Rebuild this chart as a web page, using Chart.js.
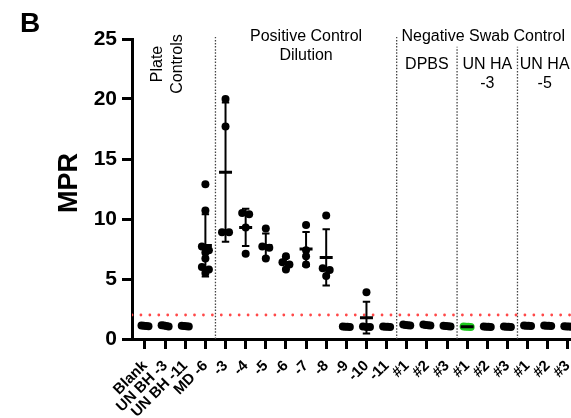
<!DOCTYPE html>
<html><head><meta charset="utf-8">
<script src="https://cdn.jsdelivr.net/npm/chart.js@4/dist/chart.umd.min.js"></script>
<style>
html,body{margin:0;padding:0;background:#fff;overflow:hidden;width:571px;height:418px}
#wrap{position:absolute;left:0;top:0;width:590px;height:418px}
</style>
</head><body><div id="wrap"><canvas id="c" width="590" height="418"></canvas></div>
<script>
// ---------- data ----------
const categories = ['Blank','UN BH -3','UN BH -11','MD -6','-3','-4','-5','-6','-7','-8','-9','-10','-11',
  '#1','#2','#3','#1','#2','#3','#1','#2','#3'];
const replicateValues = [
  [1.12, 1.08, 1.10, 1.06],
  [1.15, 1.12, 1.08, 1.05],
  [1.10, 1.08, 1.06, 1.05],
  [12.9, 10.7, 7.7, 7.4, 7.2, 6.7, 6.0, 5.8, 5.5],
  [20.0, 17.7, 8.9, 8.9],
  [10.5, 10.4, 9.3, 7.1],
  [9.2, 7.7, 7.6, 6.7],
  [6.9, 6.4, 6.2, 5.8],
  [9.5, 7.4, 6.9, 6.2],
  [10.3, 5.9, 5.75, 5.25],
  [1.05, 1.03, 1.02, 1.00],
  [3.9, 1.05, 1.0, 1.0],
  [1.05, 1.03, 1.02, 1.00],
  [1.20, 1.17, 1.15, 1.13],
  [1.20, 1.16, 1.14, 1.12],
  [1.10, 1.08, 1.07, 1.05],
  [1.05, 1.03, 1.02, 1.01],
  [1.05, 1.03, 1.02, 1.01],
  [1.05, 1.03, 1.02, 1.01],
  [1.13, 1.11, 1.10, 1.08],
  [1.13, 1.11, 1.10, 1.08],
  [1.07, 1.05, 1.04, 1.03]
];
const means = [1.09, 1.10, 1.07, 7.8, 13.9, 9.3, 7.8, 6.3, 7.5, 6.8, 1.03, 1.78, 1.03,
  1.16, 1.15, 1.07, 1.03, 1.03, 1.03, 1.10, 1.10, 1.05];
const sds = [0.03, 0.04, 0.02, 2.6, 5.8, 1.55, 1.0, 0.45, 1.42, 2.35, 0.02, 1.33, 0.02,
  0.03, 0.03, 0.02, 0.02, 0.02, 0.02, 0.02, 0.02, 0.02];
const highlightedCategory = 16;          // green group (UN HA -3, #1)
const yTicks = [0, 5, 10, 15, 20, 25];
const cutoff = 2;                          // red dotted threshold
const groupBreaks = [3.5, 12.5, 15.5, 18.5];
const groupBreakTops = [25.17, 25.17, 24.35, 24.35];
const xRange = [-0.645, 21.63];

// ---------- point spreading (scatter dot plot) ----------
const PX_PER_CAT = 20.16, ROW_TOL = 0.45, SPREAD_PX = 3.5;
function spreadGroup(vals, idx) {
  const sorted = vals.slice().sort((a, b) => b - a);
  const rows = [];
  sorted.forEach(v => {
    const r = rows[rows.length - 1];
    if (r && r[0] - v <= ROW_TOL) r.push(v); else rows.push([v]);
  });
  const pts = [];
  rows.forEach(r => {
    const n = r.length;
    r.forEach((v, k) => {
      const off = n === 1 ? 0 : (-SPREAD_PX + 2 * SPREAD_PX * k / (n - 1));
      pts.push({ x: idx + off / PX_PER_CAT, y: v });
    });
  });
  return pts;
}
const blackDots = [], greenDots = [];
replicateValues.forEach((vals, i) => {
  (i === highlightedCategory ? greenDots : blackDots).push(...spreadGroup(vals, i));
});
const meanPts = means.map((m, i) => ({ x: i, y: m }));
const capPts = [];
const whiskerPts = [];
means.forEach((m, i) => {
  capPts.push({ x: i, y: m - sds[i] }, { x: i, y: m + sds[i] });
  whiskerPts.push({ x: i, y: m - sds[i] }, { x: i, y: m + sds[i] }, { x: i, y: null });
});
const breakPts = [];
groupBreaks.forEach((b, k) => { breakPts.push({ x: b, y: 0 }, { x: b, y: groupBreakTops[k] }, { x: b, y: null }); });

const FAM = "'Liberation Sans', Arial, Helvetica, sans-serif";
Chart.defaults.font.family = FAM;
Chart.defaults.color = '#000';

// ---------- annotation text ----------
const annot = {
  id: 'annot',
  afterDraw(chart) {
    const ctx = chart.ctx, xs = chart.scales.x;
    const px = v => xs.getPixelForValue(v);
    ctx.save();
    ctx.fillStyle = '#000';
    ctx.font = `bold 28px ${FAM}`;
    ctx.textAlign = 'left'; ctx.textBaseline = 'alphabetic';
    ctx.fillText('B', 20, 32);

    // y title
    ctx.save();
    ctx.translate(77, 183); ctx.rotate(-Math.PI / 2);
    ctx.font = `bold 27px ${FAM}`; ctx.textAlign = 'center';
    ctx.fillText('MPR', 0, 0);
    ctx.restore();

    ctx.font = `16px ${FAM}`;
    // Plate Controls (rotated)
    ctx.save();
    ctx.translate(px(1) - 3, 64); ctx.rotate(-Math.PI / 2);
    ctx.textAlign = 'center';
    ctx.fillText('Plate', 0, 0);
    ctx.fillText('Controls', 0, 20);
    ctx.restore();

    ctx.textAlign = 'center';
    ctx.fillText('Positive Control', px(8), 41);
    ctx.fillText('Dilution', px(8), 60);
    ctx.fillText('Negative Swab Control', px(16.8), 41);
    ctx.fillText('DPBS', px(14), 69);
    ctx.fillText('UN HA', px(17), 69);
    ctx.fillText('-3', px(17), 88);
    ctx.fillText('UN HA', px(19.85), 69);
    ctx.fillText('-5', px(19.85), 88);
    ctx.restore();
  }
};

new Chart(document.getElementById('c'), {
  type: 'scatter',
  data: {
    datasets: [
      { type: 'scatter', data: meanPts, pointStyle: 'line', pointRadius: 6.5, pointBorderWidth: 3,
        borderColor: '#000', backgroundColor: '#000', pointHoverRadius: 6.5 },
      { type: 'scatter', data: greenDots, pointRadius: 4, pointBorderWidth: 0,
        backgroundColor: '#1ec81e', borderColor: '#1ec81e' },
      { type: 'scatter', data: blackDots, pointRadius: 4, pointBorderWidth: 0,
        backgroundColor: '#000', borderColor: '#000' },
      { type: 'scatter', data: capPts, pointStyle: 'line', pointRadius: 3.7, pointBorderWidth: 2,
        borderColor: '#000', backgroundColor: '#000' },
      { type: 'line', data: whiskerPts, showLine: true, spanGaps: false, pointRadius: 0,
        borderWidth: 2, borderColor: '#000' },
      { type: 'line', data: [{ x: xRange[0], y: cutoff }, { x: xRange[1], y: cutoff }], pointRadius: 0,
        borderWidth: 2.8, borderColor: '#ff4848', borderDash: [0, 8.93], borderCapStyle: 'round' },
      { type: 'line', data: breakPts, showLine: true, spanGaps: false, pointRadius: 0, clip: false,
        borderWidth: 1.3, borderColor: '#444', borderDash: [1.5, 1.6] }
    ]
  },
  options: {
    responsive: false, animation: false, devicePixelRatio: 1,
    layout: { padding: { top: 39, left: 0, right: 0, bottom: 0 } },
    plugins: { legend: { display: false }, tooltip: { enabled: false } },
    scales: {
      x: {
        type: 'linear', min: xRange[0], max: xRange[1],
        afterBuildTicks: s => { s.ticks = categories.map((_, i) => ({ value: i })); },
        afterFit: s => { s.height = 79; s.paddingLeft = 0; s.paddingRight = 0; },
        ticks: { autoSkip: false, minRotation: 45, maxRotation: 45, padding: 8, color: '#000',
          font: { size: 15, weight: 'bold' }, callback: v => categories[v] ?? '' },
        grid: { drawOnChartArea: false, drawTicks: true, tickLength: 10, tickWidth: 3, tickColor: '#000' },
        border: { display: true, color: '#000', width: 3 }
      },
      y: {
        min: 0, max: 25,
        afterBuildTicks: s => { s.ticks = yTicks.map(v => ({ value: v })); },
        afterFit: s => { s.width = 132; },
        ticks: { color: '#000', padding: 5, font: { size: 21, weight: 'bold' } },
        grid: { drawOnChartArea: false, drawTicks: true, tickLength: 10, tickWidth: 3, tickColor: '#000' },
        border: { display: true, color: '#000', width: 3 }
      }
    }
  },
  plugins: [annot]
});
</script>
</body></html>
